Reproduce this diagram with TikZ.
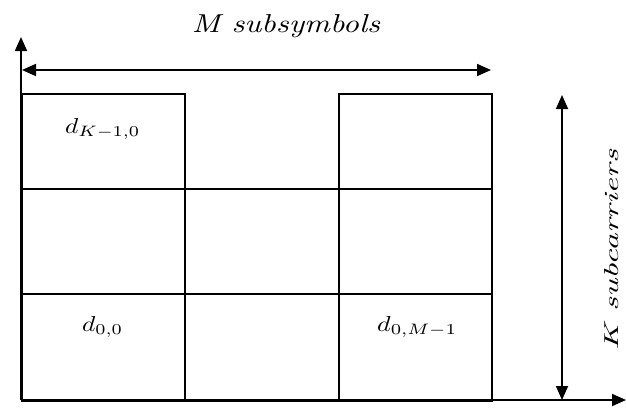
\documentclass[tikz,border=0pt]{standalone}
\usetikzlibrary{arrows.meta}
\begin{document}
\begin{tikzpicture}[x=1pt,y=-1pt,
  cell/.style={draw,line width=1.7pt,rectangle,anchor=north west,inner sep=0pt},
  axis/.style={line width=1.8pt,-{Triangle[length=14pt,width=12pt]}},
  span/.style={line width=1.8pt,{Triangle[length=14pt,width=12pt]}-{Triangle[length=14pt,width=12pt]}},
  lab/.style={inner sep=0pt,anchor=base west},
  axlab/.style={inner sep=0pt,anchor=base}]
\useasboundingbox (0,0) rectangle (626,407);
% cells (top row, middle omitted)
\node[cell,minimum width=163pt,minimum height=95pt] (c00) at (21,93) {};
\node[cell,minimum width=153pt,minimum height=95pt] (c02) at (338,93) {};
\node[cell,minimum width=163pt,minimum height=105pt] (c10) at (21,188) {};
\node[cell,minimum width=154pt,minimum height=105pt] (c11) at (184,188) {};
\node[cell,minimum width=153pt,minimum height=105pt] (c12) at (338,188) {};
\node[cell,minimum width=163pt,minimum height=107pt] (c20) at (21,293) {};
\node[cell,minimum width=154pt,minimum height=107pt] (c21) at (184,293) {};
\node[cell,minimum width=153pt,minimum height=107pt] (c22) at (338,293) {};
% labels
\node[lab] (dk) at (65,133) {\resizebox{75pt}{15pt}{$d_{K-1,0}$}};
\node[lab] (d00) at (82,331) {\resizebox{41pt}{15pt}{$d_{0,0}$}};
\node[lab] (d0m) at (377,331) {\resizebox{80pt}{15pt}{$d_{0,M-1}$}};
% axes
\coordinate (o) at (21,400);
\coordinate (ytip) at (21,37);
\coordinate (xtip) at (626,400);
\draw[axis] (o) -- (ytip);
\draw[axis] (o) -- (xtip);
% span arrows
\coordinate (ml) at (22,70);
\coordinate (mr) at (491,70);
\draw[span] (ml) -- (mr);
\coordinate (kt) at (562,95);
\coordinate (kb) at (562,400);
\draw[span] (kb) -- (kt);
\node[axlab] (mlab) at (286,32) {\resizebox{188pt}{18pt}{\itshape M subsymbols}};
\node[axlab,rotate=90] (klab) at (618,250) {\resizebox{200pt}{14pt}{\itshape K subcarriers}};
\end{tikzpicture}
\end{document}
